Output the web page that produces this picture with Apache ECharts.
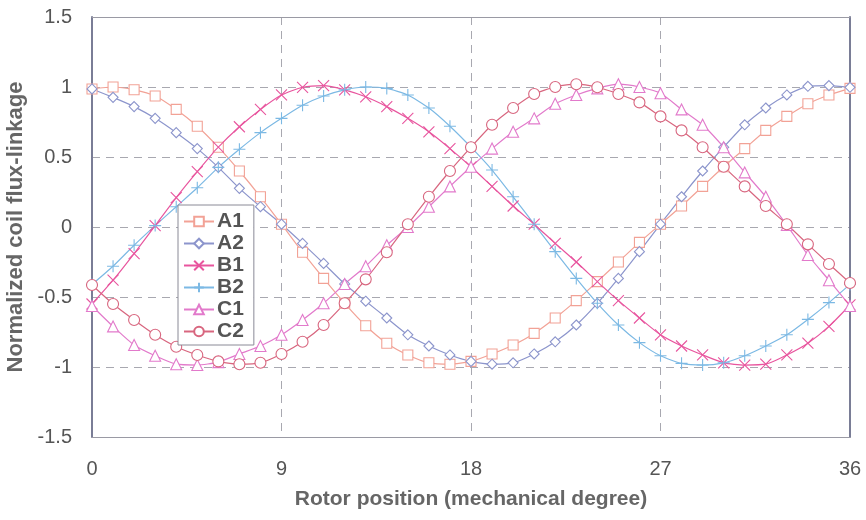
<!DOCTYPE html>
<html>
<head>
<meta charset="utf-8">
<title>Coil flux-linkage vs rotor position</title>
<script src="https://cdn.jsdelivr.net/npm/echarts@6/dist/echarts.min.js"></script>
<style>
  html, body { margin: 0; padding: 0; background: #ffffff; }
  #chart { width: 866px; height: 520px; }
</style>
</head>
<body>
<div id="chart"></div>
<script>
// Rotor position in mechanical degrees
const degrees = [0,1,2,3,4,5,6,7,8,9,10,11,12,13,14,15,16,17,18,19,20,21,22,23,24,25,26,27,28,29,30,31,32,33,34,35,36];

// Normalized flux-linkage of each coil
const A1 = [0.986,1.0,0.98,0.936,0.84,0.72,0.57,0.40,0.216,0.02,-0.18,-0.367,-0.545,-0.705,-0.83,-0.914,-0.97,-0.98,-0.96,-0.907,-0.843,-0.76,-0.65,-0.526,-0.39,-0.25,-0.11,0.02,0.15,0.29,0.43,0.56,0.69,0.79,0.88,0.943,0.99];
const A2 = [0.986,0.926,0.86,0.776,0.674,0.56,0.426,0.276,0.145,0.02,-0.117,-0.26,-0.407,-0.53,-0.65,-0.77,-0.85,-0.914,-0.96,-0.98,-0.97,-0.907,-0.82,-0.70,-0.545,-0.367,-0.176,0.02,0.216,0.40,0.57,0.73,0.85,0.943,1.005,1.01,0.998];
const B1 = [-0.55,-0.38,-0.19,0.01,0.21,0.395,0.57,0.716,0.84,0.943,0.998,1.01,0.98,0.93,0.86,0.776,0.68,0.56,0.43,0.29,0.15,0.02,-0.117,-0.25,-0.39,-0.526,-0.65,-0.77,-0.85,-0.914,-0.97,-0.986,-0.98,-0.914,-0.83,-0.71,-0.557];
const B2 = [-0.41,-0.28,-0.13,0.01,0.145,0.28,0.426,0.555,0.674,0.776,0.87,0.936,0.98,1.0,0.99,0.943,0.85,0.72,0.57,0.407,0.216,0.02,-0.176,-0.367,-0.545,-0.70,-0.826,-0.92,-0.974,-0.986,-0.97,-0.92,-0.85,-0.77,-0.66,-0.54,-0.41];
const C1 = [-0.564,-0.71,-0.843,-0.92,-0.98,-0.986,-0.965,-0.907,-0.85,-0.77,-0.664,-0.545,-0.407,-0.28,-0.13,0.0,0.145,0.29,0.43,0.56,0.68,0.776,0.88,0.943,0.99,1.02,1.0,0.955,0.84,0.73,0.57,0.39,0.216,0.014,-0.2,-0.38,-0.564];
const C2 = [-0.414,-0.55,-0.664,-0.77,-0.855,-0.914,-0.96,-0.98,-0.97,-0.907,-0.82,-0.70,-0.545,-0.374,-0.18,0.02,0.216,0.40,0.57,0.73,0.85,0.95,1.0,1.02,0.998,0.95,0.89,0.79,0.69,0.57,0.43,0.29,0.15,0.02,-0.124,-0.264,-0.40];

const xTicks = [0, 9, 18, 27, 36];
const yTicks = [-1.5, -1, -0.5, 0, 0.5, 1, 1.5];

const FONT = '"Liberation Sans", Arial, sans-serif';

// Open marker glyphs for the cross-type symbols
const SYM_X = 'path://M0,0L10,10M10,0L0,10';
const SYM_PLUS = 'path://M5,0L5,10M0,5L10,5';

const coils = [
  { name: 'A1', data: A1, color: '#f2a296', symbol: 'rect',     size: 10 },
  { name: 'A2', data: A2, color: '#8c95cc', symbol: 'diamond',  size: 10 },
  { name: 'B1', data: B1, color: '#e8559e', symbol: SYM_X,      size: 11 },
  { name: 'B2', data: B2, color: '#7cb9e4', symbol: SYM_PLUS,   size: 12 },
  { name: 'C1', data: C1, color: '#e27acb', symbol: 'triangle', size: 11 },
  { name: 'C2', data: C2, color: '#d8667f', symbol: 'circle',   size: 11 }
];

const series = coils.map(c => ({
  name: c.name,
  type: 'line',
  data: degrees.map((d, i) => [d, c.data[i]]),
  smooth: 0.2,
  symbol: c.symbol,
  symbolSize: c.size,
  showAllSymbol: true,
  lineStyle: { color: c.color, width: 1.2 },
  itemStyle: { color: '#ffffff', borderColor: c.color, borderWidth: 1.1 },
  emphasis: { disabled: true },
  z: 3
}));

const chart = echarts.init(document.getElementById('chart'), null, { renderer: 'canvas' });

chart.setOption({
  animation: false,
  backgroundColor: '#ffffff',
  grid: { left: 92, right: 16, top: 17, bottom: 83, containLabel: false, outerBoundsMode: 'none' },
  legend: {
    orient: 'vertical',
    left: 178,
    top: 205,
    data: coils.map(c => c.name),
    backgroundColor: '#ffffff',
    borderColor: '#8a8a96',
    borderWidth: 1,
    borderRadius: 0,
    padding: [6, 10, 3, 5],
    itemWidth: 30,
    itemHeight: 12,
    itemGap: 1,
    selectedMode: false,
    textStyle: { fontFamily: FONT, fontSize: 21, fontWeight: 'bold', color: '#555555', padding: [0, 0, 0, -2] },
    z: 10
  },
  xAxis: [
    {
      type: 'value',
      min: xTicks[0],
      max: xTicks[xTicks.length - 1],
      interval: 9,
      name: 'Rotor position (mechanical degree)',
      nameLocation: 'middle',
      nameGap: 52,
      nameTextStyle: { fontFamily: FONT, fontSize: 21, fontWeight: 'bold', color: '#666666' },
      axisLine: { show: true, onZero: false, lineStyle: { color: '#9a9aa4', width: 1 } },
      axisTick: { show: false },
      axisLabel: { fontFamily: FONT, fontSize: 20, color: '#555555', margin: 22 },
      splitLine: { show: true, lineStyle: { color: '#a8a8b0', type: [8, 6], width: 1 } }
    },
    {
      type: 'value',
      position: 'top',
      min: xTicks[0],
      max: xTicks[xTicks.length - 1],
      axisLine: { show: true, onZero: false, lineStyle: { color: '#9a9aa4', width: 1 } },
      axisTick: { show: false },
      axisLabel: { show: false },
      splitLine: { show: false }
    }
  ],
  yAxis: [
    {
      type: 'value',
      min: yTicks[0],
      max: yTicks[yTicks.length - 1],
      interval: 0.5,
      name: 'Normalized coil flux-linkage',
      nameLocation: 'middle',
      nameRotate: 90,
      nameGap: 64,
      nameTextStyle: { fontFamily: FONT, fontSize: 22, fontWeight: 'bold', color: '#666666' },
      axisLine: { show: true, onZero: false, lineStyle: { color: '#7a7d96', width: 2 } },
      axisTick: { show: false },
      axisLabel: { fontFamily: FONT, fontSize: 20, color: '#555555', margin: 20 },
      splitLine: { show: true, lineStyle: { color: '#a8a8b0', type: [8, 6], width: 1 } }
    },
    {
      type: 'value',
      position: 'right',
      min: yTicks[0],
      max: yTicks[yTicks.length - 1],
      axisLine: { show: true, onZero: false, lineStyle: { color: '#7a7d96', width: 2 } },
      axisTick: { show: false },
      axisLabel: { show: false },
      splitLine: { show: false }
    }
  ],
  series: series
});
</script>
</body>
</html>
